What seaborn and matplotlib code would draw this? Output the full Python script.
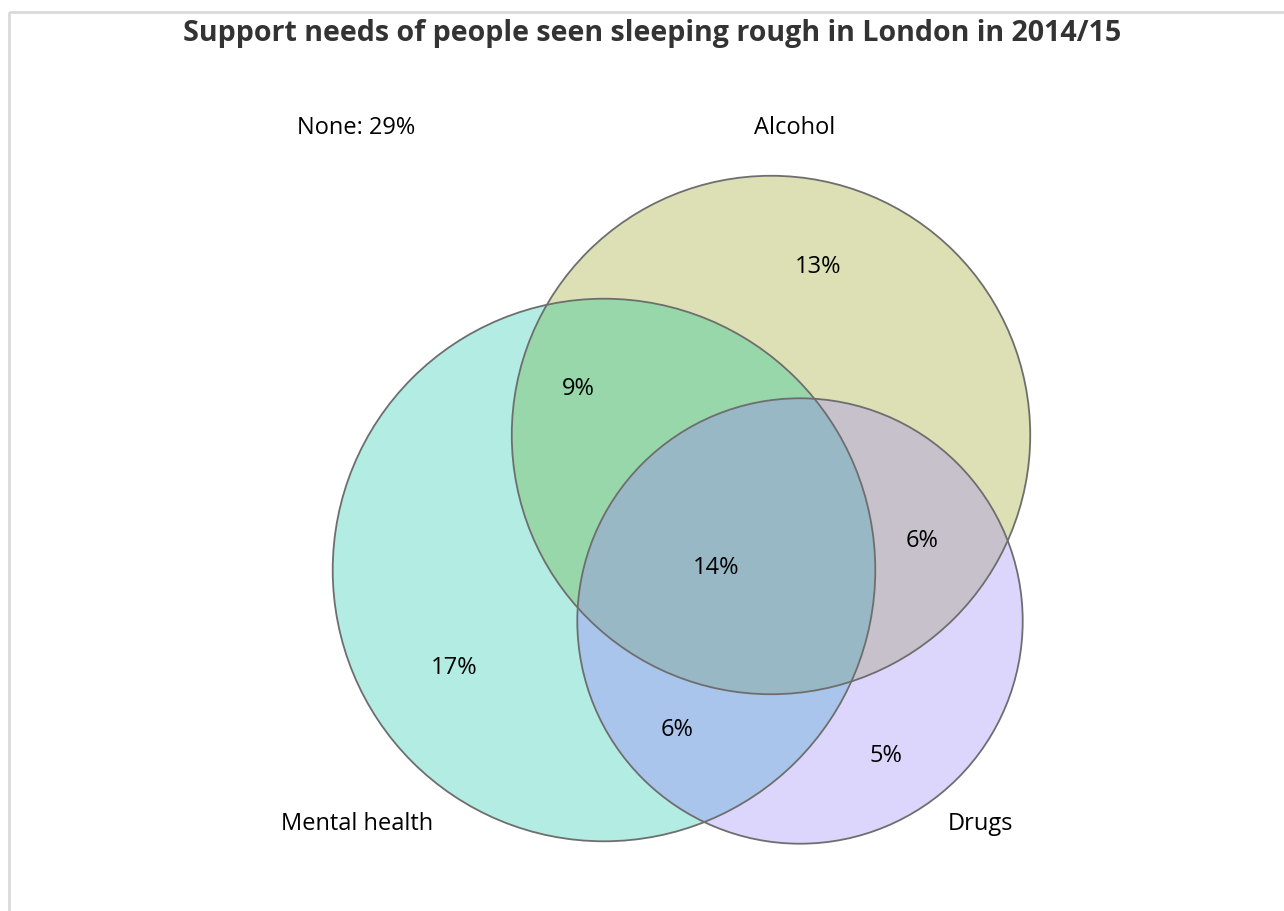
import numpy as np
import matplotlib.pyplot as plt
import seaborn as sns
from matplotlib.patches import Circle, Polygon, Rectangle

# data (% of people seen sleeping rough)
set_names = ['Mental health', 'Alcohol', 'Drugs']
only_one = [17, 13, 5]          # MH only, Alcohol only, Drugs only
mh_alc = 9
mh_drugs = 6
alc_drugs = 6
all_three = 14
none_pct = 29

title = 'Support needs of people seen sleeping rough in London in 2014/15'

sns.set_theme(style='white')
plt.rcParams['font.family'] = ['Open Sans', 'DejaVu Sans']

# set totals -> circle areas
totals = [only_one[0] + mh_alc + mh_drugs + all_three,
          only_one[1] + mh_alc + alc_drugs + all_three,
          only_one[2] + mh_drugs + alc_drugs + all_three]
scale = 40.0
radii = [scale * np.sqrt(t) for t in totals]
centers = [np.array([604, 571]), np.array([771, 436]), np.array([800, 622])]

single_cols = ['#b2ece3', '#dde0b4', '#dcd6fd']
col_mh_alc = '#98d7a9'
col_mh_drugs = '#a9c5eb'
col_alc_drugs = '#c6c1ca'
col_all = '#99b8c5'
edge = '#6e6e6e'

fig = plt.figure(figsize=(12.84, 9.12), dpi=100)
ax = fig.add_axes([0, 0, 1, 1])
ax.set_xlim(0, 1284)
ax.set_ylim(912, 0)
ax.set_aspect('equal')
ax.axis('off')


def circ(i, **kw):
    return Circle(centers[i], radii[i], transform=ax.transData, **kw)


def lens(i, j, n=1440):
    t = np.linspace(0, 2 * np.pi, n, endpoint=False)
    u = np.c_[np.cos(t), np.sin(t)]
    p1 = centers[i] + radii[i] * u
    p1 = p1[np.linalg.norm(p1 - centers[j], axis=1) <= radii[j]]
    p2 = centers[j] + radii[j] * u
    p2 = p2[np.linalg.norm(p2 - centers[i], axis=1) <= radii[i]]
    pts = np.vstack([p1, p2])
    c = pts.mean(axis=0)
    ang = np.arctan2(pts[:, 1] - c[1], pts[:, 0] - c[0])
    return pts[np.argsort(ang)]


# single sets
for i in range(3):
    ax.add_patch(circ(i, facecolor=single_cols[i], edgecolor='none'))

# pairwise overlaps
for (a, b, col) in [(0, 1, col_mh_alc), (0, 2, col_mh_drugs), (1, 2, col_alc_drugs)]:
    p = circ(b, facecolor=col, edgecolor='none')
    ax.add_patch(p)
    p.set_clip_path(circ(a))

# triple overlap
p = circ(2, facecolor=col_all, edgecolor='none')
ax.add_patch(p)
p.set_clip_path(Polygon(lens(0, 1), closed=True, transform=ax.transData))

# outlines
for i in range(3):
    ax.add_patch(circ(i, facecolor='none', edgecolor=edge, lw=1.3))

# frame
ax.add_patch(Rectangle((9, 13), 3000, 3000, fill=False, edgecolor='#d9d9d9', lw=2))

ax.text(652, 34, title, ha='center', va='center', fontsize=20.6, fontweight='bold', color='#333333')

fs = 17
ax.text(356, 128, f'None: {none_pct}%', ha='center', va='center', fontsize=fs, color='black')
label_pos = [(357, 824), (795, 128), (980, 824)]
for name, (x, y) in zip(set_names, label_pos):
    ax.text(x, y, name, ha='center', va='center', fontsize=fs, color='black')

region_vals = [only_one[0], only_one[1], only_one[2], mh_alc, mh_drugs, alc_drugs, all_three]
region_pos = [(454, 668), (818, 267), (886, 756), (578, 389), (677, 730), (922, 541), (716, 568)]
for v, (x, y) in zip(region_vals, region_pos):
    ax.text(x, y, f'{v}%', ha='center', va='center', fontsize=fs, color='black')

fig.savefig('out.png', dpi=100)
